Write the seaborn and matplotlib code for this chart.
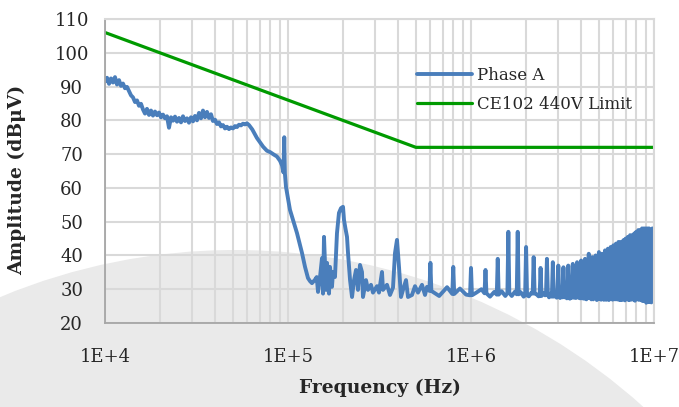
import matplotlib
matplotlib.use("Agg")
import matplotlib.pyplot as plt
from matplotlib.patches import Circle
from matplotlib.ticker import FixedLocator, FuncFormatter, LogLocator, NullFormatter
import numpy as np
import pandas as pd
import seaborn as sns

# ---------------------------------------------------------------------------
# Phase A conducted emissions, swept section below the harmonic comb (kHz, dBuV)
sweep_khz = [
    10.00, 10.26, 10.52, 10.78, 11.06, 11.34, 11.63, 11.93, 12.23, 12.54,
    12.86, 13.19, 13.53, 13.87, 14.22, 14.59, 14.96, 15.34, 15.73, 16.13,
    16.54, 16.96, 17.40, 17.84, 18.29, 18.76, 19.24, 19.73, 20.23, 20.75,
    21.27, 21.82, 22.37, 22.94, 23.53, 24.13, 24.74, 25.37, 26.02, 26.68,
    27.36, 28.06, 28.77, 29.51, 30.26, 31.03, 31.82, 32.63, 33.46, 34.31,
    35.19, 36.09, 37.00, 37.95, 38.91, 39.91, 40.92, 41.97, 43.03, 44.13,
    45.26, 46.41, 47.59, 48.80, 50.05, 51.32, 52.63, 53.97, 55.35, 56.76,
    58.20, 59.68,
    61.2, 63.8, 67.6, 73.1, 76.7, 79.8, 84.0, 87.0, 90.5, 92.8,
    94.4, 95.4, 96.2, 97.5, 102.5, 106.5, 112.0, 119.3, 123.9,
    128.6, 131.9, 135.2, 140.4, 143.5, 145.9, 149.6, 153.4, 155.4, 157.3,
    161.3, 163.4, 167.5, 169.6, 173.9, 176.2, 180.6, 185.2, 189.9, 194.8,
    199.8, 202.3, 206.0, 210.1, 212.8, 218.3, 223.8, 229.5, 235.3, 241.2,
    247.4, 253.7, 256.9, 266.8, 273.6, 284.1, 291.3, 306.4, 314.2, 326.3,
    330.4, 347.5, 360.9, 374.8, 384.3, 394.1, 404.2, 414.4, 425.0, 441.4,
    452.6, 476.0, 494.3, 513.3, 539.8, 560.6, 574.9,
]
sweep_dbuv = [
    91.5, 92.6, 90.8, 92.4, 91.2, 92.8, 90.6, 91.9, 90.2, 90.9,
    89.5, 89.9, 88.6, 87.4, 86.8, 85.4, 85.9, 84.3, 84.9, 83.2,
    82.0, 83.4, 81.6, 82.9, 81.4, 82.6, 81.5, 82.3, 80.9, 81.7,
    80.6, 81.2, 77.8, 80.9, 79.9, 81.1, 79.6, 80.7, 79.4, 81.2,
    79.8, 80.6, 79.3, 80.9, 79.7, 81.3, 80.0, 82.2, 80.6, 82.9,
    80.9, 82.5, 80.7, 81.8, 79.8, 80.2, 78.9, 79.4, 78.2, 78.6,
    77.6, 78.1, 77.4, 77.9, 77.6, 78.3, 78.0, 78.7, 78.5, 79.0,
    78.8, 79.1,
    78.6, 77.3, 74.8, 72.2, 71.0, 70.6, 69.8, 69.3, 68.0, 66.6,
    64.6, 75.0, 64.2, 60.3, 53.5, 50.5, 46.6, 40.7, 36.6,
    33.3, 32.4, 31.8, 32.8, 33.6, 29.2, 33.6, 39.2, 28.7, 45.5,
    29.8, 37.8, 28.7, 36.6, 30.7, 35.1, 33.6, 46.6, 52.6, 54.0,
    54.4, 50.5, 48.0, 45.5, 40.7, 32.7, 27.7, 32.7, 35.7, 29.8,
    37.2, 35.1, 27.7, 32.7, 29.8, 31.3, 29.0, 30.9, 29.0, 35.1,
    29.8, 31.3, 28.3, 30.5, 40.7, 44.6, 36.6, 27.7, 29.8, 32.7,
    27.7, 28.3, 30.9, 29.0, 31.3, 28.3, 30.7,
]

# Harmonics of the 200 kHz switching frequency (3rd to 50th)
fundamental_khz = 200
harmonic_n = list(range(3, 51))
harmonic_peak_dbuv = [
    37.8, 36.6, 36.3, 35.7, 39.0, 47.0, 47.0, 42.5, 39.5, 36.3,
    39.0, 38.0, 37.0, 36.5, 37.0, 37.5, 38.0, 38.5, 39.0, 40.5,
    39.5, 40.0, 41.0, 40.5, 41.5, 42.0, 42.5, 43.0, 43.5, 44.0,
    44.0, 44.5, 45.0, 45.5, 46.0, 46.0, 46.5, 47.0, 47.5, 47.5,
    48.0, 48.0, 48.0, 48.0, 48.0, 47.5, 48.0, 47.5,
]
harmonic_base_dbuv = [
    29.5, 28.6, 28.2, 28.8, 28.4, 28.9, 28.5, 28.2, 28.7, 28.0,
    28.4, 27.8, 28.3, 27.6, 28.1, 27.5, 28.2, 27.3, 27.9, 27.4,
    27.0, 27.8, 27.2, 27.6, 26.9, 27.5, 27.1, 27.7, 27.0, 27.4,
    26.8, 27.5, 27.1, 27.6, 26.9, 27.3, 27.0, 27.6, 27.2, 27.0,
    27.5, 26.5, 27.3, 27.1, 26.2, 27.4, 27.0, 27.3,
]
gap_floor_a_dbuv = [
    28.0, 30.2, 29.0, 27.8, 29.4, 28.0, 29.1, 27.9, 28.6, 29.0,
    27.6, 28.5, 27.4, 28.3, 27.2, 28.0, 27.5, 28.1, 27.0, 27.8,
    27.3, 26.8, 27.6, 27.0, 27.7, 26.8, 27.5, 27.1, 27.6, 26.9,
    27.4, 27.0, 27.5, 26.8, 27.4, 27.0, 26.6, 27.3, 26.9, 27.4,
    26.8, 27.2, 26.0, 27.3, 26.9, 26.1, 27.2, 27.0,
]
gap_floor_b_dbuv = [
    30.6, 28.4, 30.0, 29.2, 28.0, 29.3, 27.8, 29.0, 27.9, 28.2,
    28.8, 27.5, 28.4, 27.3, 28.2, 27.4, 28.0, 27.2, 27.9, 27.1,
    27.7, 27.3, 26.9, 27.5, 27.0, 27.6, 26.9, 27.4, 27.0, 27.5,
    27.1, 26.7, 27.3, 27.0, 27.5, 26.9, 27.4, 27.0, 27.3, 26.7,
    27.2, 26.9, 27.3, 26.8, 27.1, 27.3, 26.8, 27.0,
]

# MIL-STD-461 CE102 limit relaxed for a 440 V bus
limit_khz = [10, 500, 10000]
limit_dbuv = [106, 72, 72]

x_ticks_hz = [1e4, 1e5, 1e6, 1e7]
y_ticks = [20, 30, 40, 50, 60, 70, 80, 90, 100, 110]

# ---------------------------------------------------------------------------
# Assemble the Phase A trace: swept part followed by the harmonic spikes
trace_khz = list(sweep_khz)
trace_dbuv = list(sweep_dbuv)
for n, pk, base, fa, fb in zip(harmonic_n, harmonic_peak_dbuv, harmonic_base_dbuv,
                               gap_floor_a_dbuv, gap_floor_b_dbuv):
    fc = n * fundamental_khz
    trace_khz += [fc * 0.988, fc, fc * 1.012,
                  (n + 0.35) * fundamental_khz, (n + 0.7) * fundamental_khz]
    trace_dbuv += [base, pk, base, fa, fb]

phase_a = pd.DataFrame({"freq_hz": np.array(trace_khz) * 1e3, "level": trace_dbuv})
limit = pd.DataFrame({"freq_hz": np.array(limit_khz) * 1e3, "level": limit_dbuv})

# ---------------------------------------------------------------------------
sns.set_style("white")
plt.rcParams["font.family"] = ["DejaVu Serif"]
plt.rcParams["lines.solid_joinstyle"] = "round"

W, H = 679, 407
fig = plt.figure(figsize=(W / 100, H / 100), dpi=100, facecolor="white")

# decorative backdrop disc
bg = fig.add_axes([0, 0, 1, 1], zorder=0)
bg.set_xlim(0, W)
bg.set_ylim(H, 0)
bg.axis("off")
bg.add_patch(Circle((235, 860), 610, facecolor="#eaeaea", edgecolor="none"))

ax = fig.add_axes([105 / W, 1 - 323 / H, 549 / W, 304 / H], zorder=1)
ax.set_facecolor("none")

sns.lineplot(data=phase_a, x="freq_hz", y="level", ax=ax, sort=False, estimator=None,
             color="#4a7ebb", lw=2.8, label="Phase A")
sns.lineplot(data=limit, x="freq_hz", y="level", ax=ax, sort=False, estimator=None,
             color="#009a00", lw=2.3, label="CE102 440V Limit")

ax.set_xscale("log")
ax.set_xlim(1e4, 1e7)
ax.set_ylim(20, 110)
ax.xaxis.set_major_locator(FixedLocator(x_ticks_hz))
ax.xaxis.set_major_formatter(FuncFormatter(lambda v, _: f"1E+{int(round(np.log10(v)))}"))
ax.xaxis.set_minor_locator(LogLocator(base=10, subs=np.arange(2, 10)))
ax.xaxis.set_minor_formatter(NullFormatter())
ax.set_yticks(y_ticks)

ax.set_axisbelow(True)
ax.grid(True, which="both", axis="x", color="#d9d9d9", lw=1.5)
ax.grid(True, which="major", axis="y", color="#d9d9d9", lw=1.5)

for side in ("left", "bottom"):
    ax.spines[side].set_color("#a6a6a6")
    ax.spines[side].set_linewidth(1.3)
for side in ("top", "right"):
    ax.spines[side].set_color("#d9d9d9")
    ax.spines[side].set_linewidth(1.5)

ax.tick_params(axis="both", which="major", direction="out", length=6, width=1.3,
               color="#a6a6a6", labelsize=13, labelcolor="#262626")
ax.tick_params(axis="x", which="major", pad=12)
ax.tick_params(axis="y", which="major", pad=18)
ax.tick_params(axis="x", which="minor", length=0)
for lab in ax.get_yticklabels():
    lab.set_horizontalalignment("center")

ax.set_xlabel("Frequency (Hz)", fontsize=13.5, fontweight="bold", color="#262626")
ax.set_ylabel("Amplitude (dB\u03bcV)", fontsize=13.5, fontweight="bold", color="#262626")
ax.xaxis.set_label_coords((380 - 105) / 549, (323 - 388) / 304)
ax.xaxis.label.set_va("center")
ax.yaxis.set_label_coords((17 - 105) / 549, (323 - 180) / 304)
ax.yaxis.label.set_va("center")

leg = ax.legend(loc="upper left", bbox_to_anchor=((410 - 105) / 549, (323 - 60) / 304),
                frameon=False, fontsize=12, handlelength=3.3, handletextpad=0.3,
                labelspacing=0.75, borderaxespad=0)
for t in leg.get_texts():
    t.set_color("#262626")

fig.savefig("out.png", dpi=100, facecolor="white")
